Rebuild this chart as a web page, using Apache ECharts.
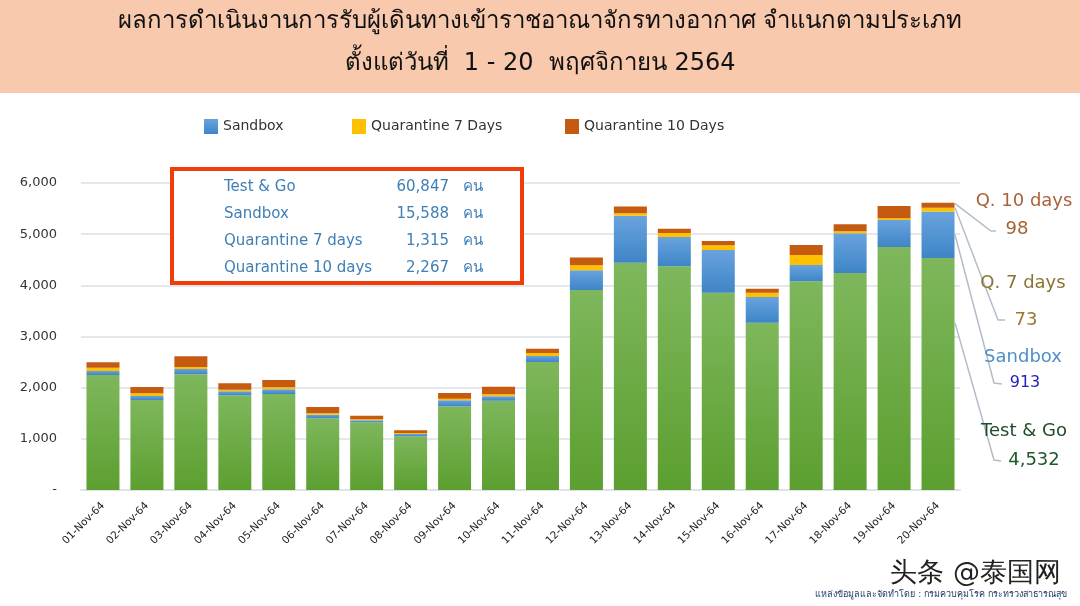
<!DOCTYPE html>
<html>
<head>
<meta charset="utf-8">
<style>html,body{margin:0;padding:0;background:#fff}#main{width:1080px;height:606px}</style>
<script src="https://cdn.jsdelivr.net/npm/echarts@6/dist/echarts.min.js"></script>
</head>
<body>
<div id="main"></div>
<script>
// data
var days = ['01-Nov-64','02-Nov-64','03-Nov-64','04-Nov-64','05-Nov-64','06-Nov-64','07-Nov-64','08-Nov-64','09-Nov-64','10-Nov-64',
    '11-Nov-64','12-Nov-64','13-Nov-64','14-Nov-64','15-Nov-64','16-Nov-64','17-Nov-64','18-Nov-64','19-Nov-64','20-Nov-64'];
var testGo = [2247,1759,2260,1850,1876,1400,1322,1049,1635,1746,2502,3909,4443,4371,3857,3270,4078,4241,4749,4532];
var sandbox = [78,78,105,78,91,72,39,45,117,85,117,384,919,574,834,502,319,775,528,913];
var quarantine7 = [65,52,39,33,39,26,20,20,33,39,58,98,45,78,91,85,196,39,32,73];
var quarantine10 = [107,124,210,125,142,122,72,55,109,149,85,154,132,82,83,74,196,138,240,98];
var totals = [2497,2013,2614,2086,2148,1620,1453,1169,1894,2019,2762,4545,5539,5105,4865,3931,4789,5193,5549,5616];

var summaryNames = ['Test & Go','Sandbox','Quarantine 7 days','Quarantine 10 days'];
var summaryValues = ['60,847','15,588','1,315','2,267'];

var FONT = 'Tahoma, "DejaVu Sans", "Noto Sans", sans-serif';

function grad(top, bottom) {
    return new echarts.graphic.LinearGradient(0, 0, 0, 1, [
        {offset: 0, color: top},
        {offset: 1, color: bottom}
    ]);
}
function barSeries(name, values, color) {
    return {name: name, type: 'bar', stack: 'all', barWidth: 33, data: values, itemStyle: {color: color}};
}
function label(text, x, y, size, color, align) {
    return {type: 'text', x: x, y: y, z: 20, style: {text: text, fill: color, font: size + 'px ' + FONT, align: align || 'center', verticalAlign: 'middle'}};
}
function leader(points) {
    return {type: 'polyline', z: 15, shape: {points: points}, style: {stroke: '#b3bdca', lineWidth: 1.5, fill: null}};
}

var chart = echarts.init(document.getElementById('main'));

var graphics = [
    {type: 'rect', z: -1, shape: {x: 0, y: 0, width: 1080, height: 93}, style: {fill: '#f8c9ad'}},
    {type: 'rect', z: 10, shape: {x: 172, y: 169, width: 350, height: 114}, style: {fill: '#fff', stroke: '#f23c0c', lineWidth: 4}},
    label('Q. 10 days', 1024, 201, 18, '#a9623a'),
    label('98', 1017, 229, 18, '#a5642e'),
    label('Q. 7 days', 1023, 283, 18, '#8a7434'),
    label('73', 1026, 320, 18, '#9a7a2e'),
    label('Sandbox', 1023, 357, 18, '#4f8ec9'),
    label('913', 1025, 383, 16, '#2222bb'),
    label('Test & Go', 1024, 431, 18, '#1d4d2b'),
    label('4,532', 1034, 460, 18, '#1e5a2a'),
    label('头条 @泰国网', 1061, 574, 27, '#222', 'right'),
    label('แหล่งข้อมูลและจัดทำโดย : กรมควบคุมโรค กระทรวงสาธารณสุข', 1067, 595, 9, '#1f3864', 'right')
];
summaryNames.forEach(function(name, i) {
    var y = 187 + i * 27;
    graphics.push(label(name, 224, y, 15, '#3f7fb5', 'left'));
    graphics.push(label(summaryValues[i], 449, y, 15, '#3f7fb5', 'right'));
    graphics.push(label('คน', 463, y, 15, '#3f7fb5', 'left'));
});

var option = {
    animation: false,
    backgroundColor: '#fff',
    textStyle: {fontFamily: FONT},
    title: [
        {text: 'ผลการดำเนินงานการรับผู้เดินทางเข้าราชอาณาจักรทางอากาศ จำแนกตามประเภท', left: 'center', top: 5,
            textStyle: {fontSize: 24, fontWeight: 'normal', color: '#111', fontFamily: FONT}},
        {text: 'ตั้งแต่วันที่  1 - 20  พฤศจิกายน 2564', left: 'center', top: 47,
            textStyle: {fontSize: 24, fontWeight: 'normal', color: '#111', fontFamily: FONT}}
    ],
    legend: [
        {data: ['Sandbox'], left: 199, top: 114},
        {data: ['Quarantine 7 Days'], left: 347, top: 114},
        {data: ['Quarantine 10 Days'], left: 560, top: 114}
    ].map(function(l) {
        l.icon = 'rect';
        l.itemWidth = 14;
        l.itemHeight = 15;
        l.itemGap = 5;
        l.textStyle = {fontSize: 14, color: '#333', fontFamily: FONT};
        return l;
    }),
    grid: {left: 81, right: 120, top: 183, bottom: 116},
    xAxis: {
        type: 'category',
        data: days,
        axisLine: {lineStyle: {color: '#dfe3e8', width: 2}},
        axisTick: {show: false},
        axisLabel: {rotate: 45, interval: 0, fontSize: 10.5, color: '#222', margin: 14}
    },
    yAxis: {
        type: 'value',
        min: 0,
        max: 6000,
        interval: 1000,
        axisLine: {show: false},
        axisTick: {show: false},
        splitLine: {lineStyle: {color: '#e4e7eb', width: 2}},
        axisLabel: {
            fontSize: 13,
            color: '#333',
            margin: 24,
            formatter: function(v) { return v === 0 ? '-' : v.toLocaleString('en-US'); }
        }
    },
    series: [
        barSeries('Test & Go', testGo, grad('#7eb75c', '#5c9f30')),
        barSeries('Sandbox', sandbox, grad('#69a3de', '#3e85c7')),
        barSeries('Quarantine 7 Days', quarantine7, '#ffc000'),
        barSeries('Quarantine 10 Days', quarantine10, '#c55a11'),
        {
            name: 'Total', type: 'line', data: totals, symbol: 'none', lineStyle: {opacity: 0}, z: 5,
            label: {
                show: true, position: 'top', distance: 17, fontSize: 13, color: '#222',
                formatter: function(p) { return p.value.toLocaleString('en-US'); }
            }
        }
    ],
    graphic: graphics
};
chart.setOption(option);

// leader lines start at the last bar, so take the pixels from the axis scale
var lastIdx = days.length - 1;
var rightEdge = chart.convertToPixel({seriesIndex: 0}, [lastIdx, 0])[0] + 17;
function stackY(v) { return chart.convertToPixel({yAxisIndex: 0}, v); }
var t = testGo[lastIdx], s = t + sandbox[lastIdx], q7 = s + quarantine7[lastIdx], q10 = q7 + quarantine10[lastIdx];
chart.setOption({graphic: graphics.concat([
    leader([[rightEdge, stackY(q10) + 1], [991, 231], [996, 231]]),
    leader([[rightEdge, stackY(q7)], [998, 320], [1005, 320]]),
    leader([[rightEdge, stackY((t + s) / 2)], [994, 383], [1002, 384]]),
    leader([[rightEdge, stackY(t / 2 + 1000)], [994, 460], [1001, 461]])
])});
</script>
</body>
</html>
